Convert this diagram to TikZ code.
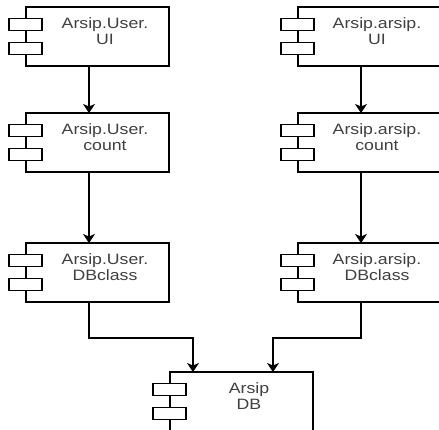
\documentclass[tikz,border=0pt]{standalone}
\usepackage{fontspec}
\setmainfont{Liberation Sans}[FakeStretch=1.18]
\usetikzlibrary{arrows.meta}
\tikzset{
    every node/.style={outer sep=0pt},
    component/.style={minimum width=160pt, minimum height=59pt, inner sep=0pt},
    body/.style={draw, line width=1.2pt, fill=white, minimum width=143pt,
    	minimum height=59pt, anchor=east},
    port/.style={draw, line width=1.2pt, fill=white, minimum width=33pt,
    	minimum height=11.5pt, inner sep=0pt},
    caption/.style={anchor=north, inner sep=0pt, align=center, text=black!75,
    	font=\fontsize{15}{16}\selectfont},
    link/.style={line width=1.2pt, -{Stealth[length=9pt, width=12pt, inset=2.5pt]}}
}

\begin{document}
\begin{tikzpicture}[x=1pt, y=-1pt]
  \useasboundingbox (0,0) rectangle (439,430);

  \foreach \n/\x/\y/\t in {ua/9/7/{Arsip.User.\\UI}, uc/9/113/{Arsip.User.\\count},
      ud/9/243/{Arsip.User.\\DBclass}, aa/281/7/{Arsip.arsip.\\UI},
      ac/281/113/{Arsip.arsip.\\count}, ad/281/243/{Arsip.arsip.\\DBclass},
      db/153/372/{Arsip\\DB}} {
    \node (\n) [component, anchor=north west] at (\x, \y) {};
    \node (\n-body) [body] at (\n.east) {};
    \node (\n-p1) [port] at ([xshift=16.5pt, yshift=12pt]\n.west) {};
    \node (\n-p2) [port] at ([xshift=16.5pt, yshift=-12pt]\n.west) {};
    \node (\n-t) [caption] at ([xshift=16pt, yshift=-11pt]\n.north) {\t};
  }

  \draw (ua) edge [link] (uc);
  \draw (uc) edge [link] (ud);
  \draw (aa) edge [link] (ac);
  \draw (ac) edge [link] (ad);

  \draw [link] (ud.south) -- ++(0,36) -| ([xshift=-40pt]db.north);
  \draw [link] (ad.south) -- ++(0,36) -| ([xshift=40pt]db.north);
\end{tikzpicture}
\end{document}
